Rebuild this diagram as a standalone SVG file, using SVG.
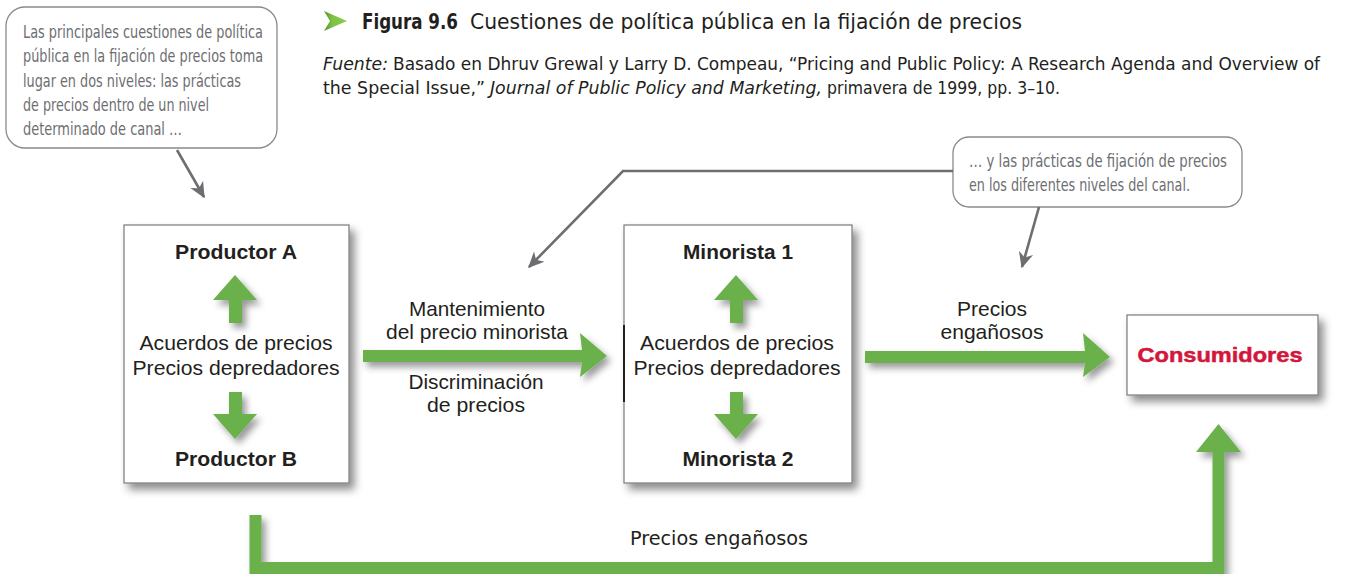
<svg xmlns="http://www.w3.org/2000/svg" width="1346" height="574" viewBox="0 0 1346 574">
<defs>
<style>
.reg{font-family:"Liberation Sans",Arial,sans-serif;fill:#231f20;}
.bold{font-family:"Liberation Sans",Arial,sans-serif;font-weight:bold;fill:#231f20;}
text.cond{font-family:"Liberation Sans Narrow","DejaVu Sans Condensed","Liberation Sans",sans-serif;}
.note{fill:#6d6e71;font-size:17px;}
.cap{fill:#231f20;font-size:18px;}
.callout{fill:#ffffff;stroke:#8a8a8a;stroke-width:1.3;}
.box{fill:#ffffff;stroke:#7a7a7a;stroke-width:1.2;}
.green{fill:#6ab04c;}
.gline{fill:none;stroke:#6ab04c;stroke-width:12;}
.pointer{fill:none;stroke:#6d6e71;stroke-width:2.6;}
</style>
<filter id="sh" x="-20%" y="-20%" width="150%" height="150%">
<feDropShadow dx="5" dy="6" stdDeviation="4" flood-color="#000" flood-opacity="0.45"/>
</filter>
<filter id="gsh" x="-30%" y="-30%" width="170%" height="170%">
<feDropShadow dx="4" dy="5" stdDeviation="3.5" flood-color="#000" flood-opacity="0.4"/>
</filter>
<marker id="ahb" viewBox="0 0 12 12" refX="11" refY="6" markerWidth="16" markerHeight="16" markerUnits="userSpaceOnUse" orient="auto">
<path d="M0,0.5 L12,6 L0,11.5 L3.5,6 Z" fill="#6d6e71"/>
</marker>
<linearGradient id="tri" x1="0" y1="0" x2="1" y2="0">
<stop offset="0" stop-color="#4f8f2e"/>
<stop offset="0.35" stop-color="#7cc243"/>
<stop offset="1" stop-color="#8dcb4f"/>
</linearGradient>
</defs>

<!-- Title -->
<g id="title">
<polygon points="324,11 347,21 324,31 330,21" fill="url(#tri)"/>
<text class="bold cond" x="362" y="29" font-size="22" textLength="96" lengthAdjust="spacingAndGlyphs">Figura 9.6</text>
<text class="reg cond" x="470" y="29" font-size="22" textLength="552" lengthAdjust="spacingAndGlyphs">Cuestiones de política pública en la fijación de precios</text>
<text class="reg cond cap" x="323" y="70" font-style="italic" textLength="65" lengthAdjust="spacingAndGlyphs">Fuente:</text>
<text class="reg cond cap" x="393" y="70" textLength="927" lengthAdjust="spacingAndGlyphs">Basado en Dhruv Grewal y Larry D. Compeau, “Pricing and Public Policy: A Research Agenda and Overview of</text>
<text class="reg cond cap" x="323" y="94" textLength="162" lengthAdjust="spacingAndGlyphs">the Special Issue,”</text>
<text class="reg cond cap" x="490" y="94" font-style="italic" textLength="332" lengthAdjust="spacingAndGlyphs">Journal of Public Policy and Marketing,</text>
<text class="reg cond cap" x="827" y="94" textLength="233" lengthAdjust="spacingAndGlyphs">primavera de 1999, pp. 3–10.</text>
</g>

<!-- Callouts -->
<g id="callout-left">
<rect class="callout" x="6" y="7" width="271" height="141" rx="19"/>
<text class="cond note" x="23" y="38" textLength="240" lengthAdjust="spacingAndGlyphs">Las principales cuestiones de política</text>
<text class="cond note" x="23" y="62" textLength="240" lengthAdjust="spacingAndGlyphs">pública en la fijación de precios toma</text>
<text class="cond note" x="23" y="87" textLength="218" lengthAdjust="spacingAndGlyphs">lugar en dos niveles: las prácticas</text>
<text class="cond note" x="23" y="111" textLength="186" lengthAdjust="spacingAndGlyphs">de precios dentro de un nivel</text>
<text class="cond note" x="23" y="135" textLength="159" lengthAdjust="spacingAndGlyphs">determinado de canal …</text>
</g>
<g id="callout-right">
<rect class="callout" x="953" y="137" width="289" height="70" rx="16"/>
<text class="cond note" x="969" y="167" textLength="258" lengthAdjust="spacingAndGlyphs">… y las prácticas de fijación de precios</text>
<text class="cond note" x="969" y="191" textLength="221" lengthAdjust="spacingAndGlyphs">en los diferentes niveles del canal.</text>
</g>

<!-- Nodes -->
<g id="productores">
<rect class="box" x="124" y="225" width="225" height="258" filter="url(#sh)"/>
<text class="bold" x="236" y="259" font-size="19.5" text-anchor="middle" textLength="122" lengthAdjust="spacingAndGlyphs">Productor A</text>
<g filter="url(#gsh)">
<polygon class="green" points="235,275 257,300 242,300 242,323 229,323 229,300 213,300"/>
<polygon class="green" points="235,439 257,414 242,414 242,392 229,392 229,414 213,414"/>
</g>
<text class="reg" x="236" y="350" font-size="21" text-anchor="middle" textLength="193" lengthAdjust="spacingAndGlyphs">Acuerdos de precios</text>
<text class="reg" x="236" y="375" font-size="21" text-anchor="middle" textLength="207" lengthAdjust="spacingAndGlyphs">Precios depredadores</text>
<text class="bold" x="236" y="466" font-size="19.5" text-anchor="middle" textLength="122" lengthAdjust="spacingAndGlyphs">Productor B</text>
</g>

<g id="minoristas">
<rect class="box" x="624" y="225" width="228" height="258" filter="url(#sh)"/>
<line x1="624" y1="325" x2="624" y2="402" stroke="#231f20" stroke-width="2"/>
<text class="bold" x="738" y="259" font-size="19.5" text-anchor="middle" textLength="110" lengthAdjust="spacingAndGlyphs">Minorista 1</text>
<g filter="url(#gsh)">
<polygon class="green" points="736,275 758,300 743,300 743,323 730,323 730,300 714,300"/>
<polygon class="green" points="736,439 758,414 743,414 743,392 730,392 730,414 714,414"/>
</g>
<text class="reg" x="737" y="350" font-size="21" text-anchor="middle" textLength="194" lengthAdjust="spacingAndGlyphs">Acuerdos de precios</text>
<text class="reg" x="737" y="375" font-size="21" text-anchor="middle" textLength="207" lengthAdjust="spacingAndGlyphs">Precios depredadores</text>
<text class="bold" x="738" y="466" font-size="19.5" text-anchor="middle" textLength="111" lengthAdjust="spacingAndGlyphs">Minorista 2</text>
</g>

<g id="consumidores">
<rect class="box" x="1127" y="315" width="191" height="80" filter="url(#sh)" stroke="#666"/>
<text x="1220" y="362" font-family="Liberation Sans,Arial,sans-serif" font-weight="900" font-size="20.5" fill="#d3163b" stroke="#d3163b" stroke-width="0.5" text-anchor="middle" textLength="165" lengthAdjust="spacingAndGlyphs">Consumidores</text>
</g>

<!-- Connectors -->
<g id="connectors">
<g filter="url(#gsh)">
<polygon class="green" points="363,350 582,350 580,333 607,356 580,377 582,362 363,362"/>
<polygon class="green" points="865,351 1085,351 1083,333 1110,357 1083,377 1085,363 865,363"/>
<path class="gline" d="M255.5,515 V568 H1218.5 V450"/>
<polygon class="green" points="1218.5,424 1241,452 1196,452"/>
</g>
<path class="pointer" d="M177,150 L204,197" marker-end="url(#ahb)"/>
<path class="pointer" d="M953,171 H623 L529,267" marker-end="url(#ahb)"/>
<path class="pointer" d="M1039,207 L1022,267" marker-end="url(#ahb)"/>
<text class="reg" x="477" y="316" font-size="21" text-anchor="middle" textLength="136" lengthAdjust="spacingAndGlyphs">Mantenimiento</text>
<text class="reg" x="477" y="339" font-size="21" text-anchor="middle" textLength="182" lengthAdjust="spacingAndGlyphs">del precio minorista</text>
<text class="reg" x="476" y="389" font-size="21" text-anchor="middle" textLength="135" lengthAdjust="spacingAndGlyphs">Discriminación</text>
<text class="reg" x="476" y="412" font-size="21" text-anchor="middle" textLength="98" lengthAdjust="spacingAndGlyphs">de precios</text>
<text class="reg" x="992" y="316" font-size="21" text-anchor="middle" textLength="70" lengthAdjust="spacingAndGlyphs">Precios</text>
<text class="reg" x="992" y="339" font-size="21" text-anchor="middle" textLength="103" lengthAdjust="spacingAndGlyphs">engañosos</text>
<text class="reg cond" x="719" y="545" font-size="20" text-anchor="middle" textLength="178" lengthAdjust="spacingAndGlyphs">Precios engañosos</text>
</g>
</svg>
